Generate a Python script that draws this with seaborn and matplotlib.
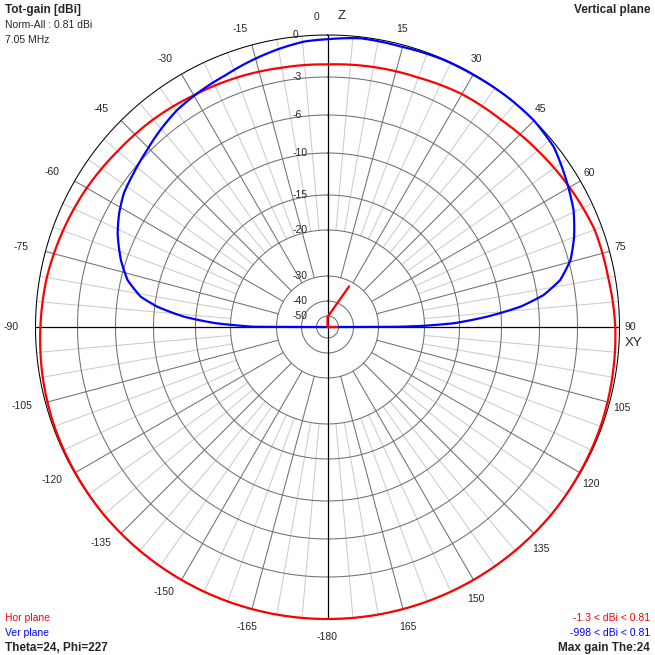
import numpy as np
import pandas as pd
import matplotlib
matplotlib.use("Agg")
import matplotlib.pyplot as plt
import seaborn as sns

# dB rings of the log-like radial scale and where they sit (fraction of outer radius)
ring_db = [-50, -40, -30, -20, -15, -10, -6, -3, 0]
ring_labels = ["-50", "-40", "-30", "-20", "-15", "-10", "-6", "-3", "0"]
scale_db = [-60, -50, -40, -30, -20, -15, -10, -6, -3, 0]
scale_r = np.array([0, 11, 26, 51, 97, 132, 174, 212, 250, 292]) / 292.0

# angle tick labels (degrees, 0 = zenith, clockwise)
angle_ticks = list(range(-165, 181, 15))

# horizontal plane pattern (red), dB relative to max
hor_theta = list(range(-180, 181, 10))
hor_db = [0, 0, 0, 0, 0, 0, -0.05, -0.1, -0.2, -0.35, -0.5, -0.75, -1.0, -1.3,
          -1.5, -1.75, -1.9, -2.05, -2.1, -2.0, -1.9, -1.65, -1.55, -1.25, -0.9,
          -0.55, -0.5, -0.3, -0.2, -0.1, -0.05, 0, 0, 0, 0, 0, 0]

# vertical plane pattern (blue)
ver_theta = [-90, -89.8, -89.1, -88.1, -85.9, -83.2, -80.8, -76.8, -72.1, -66,
             -61.4, -56.7, -51.6, -45.5, -40.3, -34.7, -29.1, -22, -15.7, -10,
             -4.7, 0, 6.5, 14.6, 23.5, 30.1, 38, 44.9, 51.5, 59.1, 64.6, 69.9,
             74.6, 78.6, 81.6, 84, 86.3, 88.3, 89.4, 89.8, 90]
ver_db = [-998, -25, -22, -18, -13.6, -10.3, -8.4, -6.7, -5.6, -4.6,
          -4.0, -3.5, -3.2, -2.8, -2.4, -2.0, -1.75, -1.45, -1.05, -0.7,
          -0.4, -0.3, -0.1, -0.15, -0.05, -0.05, 0, 0, -0.2, -0.9, -1.4, -2.1,
          -2.85, -4.0, -5.5, -7.9, -11.7, -15.8, -21, -26, -998]

# small red direction marker at the centre
mark_theta = [90, 90, 0, 0, 28]
mark_db = [-51, -998, -998, -51, -32]


def to_r(db):
    return np.interp(db, scale_db, scale_r)


sns.set_style("white")
plt.rcParams["font.family"] = ["Liberation Sans", "DejaVu Sans"]
plt.rcParams["font.size"] = 7.5

fig = plt.figure(figsize=(6.55, 6.55), dpi=100)
fig.patch.set_facecolor("white")
ax = fig.add_axes([35.5 / 655, 36 / 655, 584 / 655, 584 / 655], projection="polar")
ax.set_theta_zero_location("N")
ax.set_theta_direction(-1)
ax.set_axis_off()

full = np.linspace(0, 2 * np.pi, 721)
dark = "#707070"
light = "#cccccc"

# spokes
for a in range(0, 360, 5):
    t = np.deg2rad(a)
    if a % 90 == 0:
        continue
    if a % 15 == 0:
        ax.plot([t, t], [to_r(-30), 1], color=dark, lw=0.75, zorder=1)
    else:
        ax.plot([t, t], [to_r(-20), 1], color=light, lw=0.75, zorder=0.5)

# rings
for db in ring_db:
    ax.plot(full, np.full_like(full, to_r(db)), color="black" if db == 0 else dark,
            lw=0.75, zorder=1.2, clip_on=False)

# main axes
ax.plot([0, np.pi], [1, 1], color="black", lw=0.9, zorder=1.5)
ax.plot([np.pi / 2, 3 * np.pi / 2], [1, 1], color="black", lw=0.9, zorder=1.5)

# radial labels
for db, lab in zip(ring_db, ring_labels):
    ax.annotate(lab, xy=(0, to_r(db)), xytext=(-34.5, 0), textcoords="offset pixels",
                ha="left", va="center", zorder=3)

# angle labels
for a in angle_ticks:
    t = np.deg2rad(a)
    if a == 90:
        ax.annotate("90", xy=(t, 1), xytext=(5, 0), textcoords="offset pixels",
                    ha="left", va="center")
        ax.annotate("XY", xy=(t, 1), xytext=(5.5, -16), textcoords="offset pixels",
                    ha="left", va="center", fontsize=9.5)
        continue
    if a == 0:
        ax.annotate("0", xy=(0, 1), xytext=(-11, 18), textcoords="offset pixels",
                    ha="center", va="center")
        ax.annotate("Z", xy=(0, 1), xytext=(14.5, 19), textcoords="offset pixels",
                    ha="center", va="center", fontsize=9.5)
        continue
    if a == -90:
        ax.annotate("-90", xy=(t, 1), xytext=(-17, 0), textcoords="offset pixels",
                    ha="right", va="center")
        continue
    if a == 180:
        ax.text(t, 1.062, "-180", ha="center", va="center")
        continue
    if abs(a) == 165:
        ax.text(t, 1.065, str(a), ha="center", va="center")
        continue
    if 105 <= a <= 150:
        rl = 314 / 292
    elif -150 <= a <= -105:
        rl = 306 / 292
    else:
        rl = 309 / 292
    ax.text(t, rl, str(a), ha="right", va="center")

# patterns
hor = pd.DataFrame({"theta": np.deg2rad(hor_theta), "r": to_r(hor_db)})
ver = pd.DataFrame({"theta": np.deg2rad(ver_theta), "r": to_r(ver_db)})
mark = pd.DataFrame({"theta": np.deg2rad(mark_theta), "r": to_r(mark_db)})
sns.lineplot(data=hor, x="theta", y="r", sort=False, estimator=None, color="#ff0000",
             lw=1.6, ax=ax, zorder=4, clip_on=False)
ax.lines[-1].get_path()._interpolation_steps = 20
sns.lineplot(data=ver, x="theta", y="r", sort=False, estimator=None, color="#0000ff",
             lw=1.6, ax=ax, zorder=5, clip_on=False)
ax.lines[-1].get_path()._interpolation_steps = 20
sns.lineplot(data=mark, x="theta", y="r", sort=False, estimator=None, color="#ff0000",
             lw=1.6, ax=ax, zorder=6)
ax.set_ylim(0, 1)
ax.set_axis_off()

# corner texts
def px(x, y):
    return x / 655, 1 - y / 655

fig.text(*px(5, 10), "Tot-gain [dBi]", weight="bold", fontsize=8.5, va="center")
fig.text(*px(5, 25), "Norm-All : 0.81 dBi", va="center")
fig.text(*px(5, 40), "7.05 MHz", va="center")
fig.text(*px(650, 10), "Vertical plane", weight="bold", fontsize=8.5, va="center", ha="right")
fig.text(*px(5, 618), "Hor plane", color="#ff0000", va="center")
fig.text(*px(5, 633), "Ver plane", color="#0000ff", va="center")
fig.text(*px(5, 648), "Theta=24, Phi=227", weight="bold", fontsize=8.5, va="center")
fig.text(*px(650, 618), "-1.3 < dBi < 0.81", color="#ff0000", va="center", ha="right")
fig.text(*px(650, 633), "-998 < dBi < 0.81", color="#0000ff", va="center", ha="right")
fig.text(*px(650, 648), "Max gain The:24", weight="bold", fontsize=8.5, va="center", ha="right")

fig.savefig("out.png", dpi=100, facecolor="white")
